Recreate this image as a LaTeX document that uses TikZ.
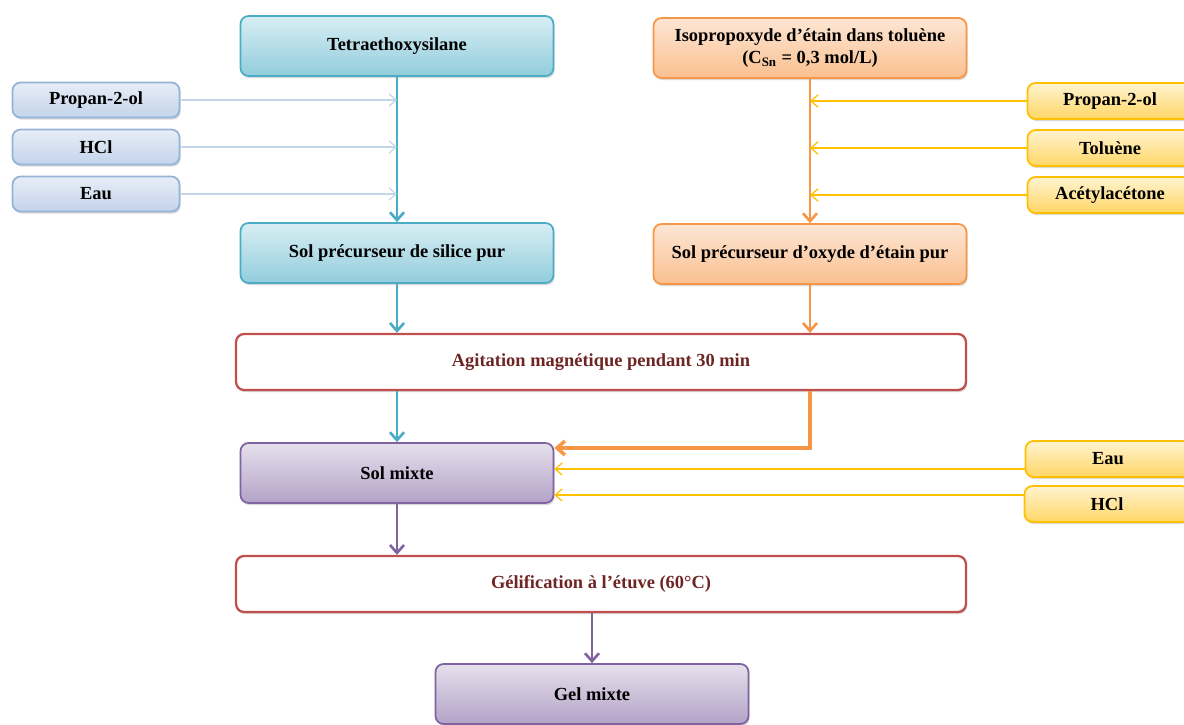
\documentclass[tikz,border=0pt]{standalone}
\usepackage{fontspec}
\setmainfont{Liberation Serif}
\usetikzlibrary{arrows.meta,shadows}

\definecolor{bleuBord}{HTML}{4BACC6}
\definecolor{bleuHaut}{HTML}{D8EEF4}
\definecolor{bleuBas}{HTML}{92CDDC}
\definecolor{ciel}{HTML}{95B3D7}
\definecolor{cielHaut}{HTML}{E6EDF7}
\definecolor{cielBas}{HTML}{C3D4EB}
\definecolor{cielTrait}{HTML}{C4D5EA}
\definecolor{orangeBord}{HTML}{F79646}
\definecolor{orangeHaut}{HTML}{FDE6D4}
\definecolor{orangeBas}{HTML}{FAC090}
\definecolor{jauneBord}{HTML}{FFC000}
\definecolor{jauneHaut}{HTML}{FFF3D0}
\definecolor{jauneBas}{HTML}{FFD766}
\definecolor{rougeBord}{HTML}{C0504D}
\definecolor{rougeTexte}{HTML}{6E2624}
\definecolor{violetBord}{HTML}{8064A2}
\definecolor{violetHaut}{HTML}{E6E0EC}
\definecolor{violetBas}{HTML}{B3A2C7}

\tikzset{
  boite/.style={rounded corners=0.16cm, align=center, inner sep=2pt,
    font=\fontsize{10.5}{13}\selectfont\bfseries,
    drop shadow={opacity=0.3, shadow xshift=0.7pt, shadow yshift=-1.2pt}},
  silicebox/.style={boite, draw=bleuBord, line width=1pt, top color=bleuHaut,
    bottom color=bleuBas, minimum width=6.26cm, minimum height=1.2cm},
  etainbox/.style={boite, draw=orangeBord, line width=1pt, top color=orangeHaut,
    bottom color=orangeBas, minimum width=6.26cm, minimum height=1.2cm},
  mixtebox/.style={boite, draw=violetBord, line width=1pt, top color=violetHaut,
    bottom color=violetBas, minimum width=6.26cm, minimum height=1.2cm},
  ajoutbleu/.style={boite, draw=ciel, line width=1pt, top color=cielHaut,
    bottom color=cielBas, minimum width=3.34cm, minimum height=0.7cm},
  ajoutjaune/.style={boite, draw=jauneBord, line width=1pt, top color=jauneHaut,
    bottom color=jauneBas, minimum width=3.3cm, minimum height=0.72cm},
  etape/.style={boite, draw=rougeBord, line width=1.3pt, fill=white,
    text=rougeTexte, minimum width=14.6cm, minimum height=1.12cm},
  fleche/.style={line width=1.5pt, -{Straight Barb[length=4.5pt, width=8pt]}},
  fin/.style={line width=0.7pt, -{Straight Barb[length=4pt, width=7pt]}},
}

\begin{document}
\begin{tikzpicture}[x=0.02cm, y=-0.02cm]
%%%%% START %%%%%
\useasboundingbox (0,0) rectangle (1184,724);

% colonne silice
\node[silicebox] (teos) at (397,46) {Tetraethoxysilane};
\node[ajoutbleu] (propL) at (96,100) {Propan-2-ol};
\node[ajoutbleu] (hclL) at (96,147) {HCl};
\node[ajoutbleu] (eauL) at (96,194) {Eau};
\node[silicebox] (silice) at (397,253) {Sol précurseur de silice pur};

% colonne etain
\node[etainbox] (isop) at (810,48) {Isopropoxyde d’étain dans toluène\\(C\textsubscript{Sn} = 0,3 mol/L)};
\node[ajoutjaune] (propR) at (1110,101) {Propan-2-ol};
\node[ajoutjaune] (tolR) at (1110,148) {Toluène};
\node[ajoutjaune] (acacR) at (1110,195) {Acétylacétone};
\node[etainbox] (oxyde) at (810,254) {Sol précurseur d’oxyde d’étain pur};

% melange
\node[etape] (agit) at (601,362) {Agitation magnétique pendant 30 min};
\node[mixtebox] (mixte) at (397,473) {Sol mixte};
\node[ajoutjaune] (eauR) at (1108,459) {Eau};
\node[ajoutjaune] (hclR) at (1107,504) {HCl};
\node[etape] (gelif) at (601,584) {Gélification à l’étuve (60°C)};
\node[mixtebox] (gel) at (592,694) {Gel mixte};

% fleches
\draw[fleche, bleuBord] (teos) -- (silice);
\draw[fin, cielTrait] (propL.east) -- (propL -| teos);
\draw[fin, cielTrait] (hclL.east) -- (hclL -| teos);
\draw[fin, cielTrait] (eauL.east) -- (eauL -| teos);

\draw[fleche, orangeBord] (isop) -- (oxyde);
\draw[fin, jauneBord] (propR.west) -- (propR -| isop);
\draw[fin, jauneBord] (tolR.west) -- (tolR -| isop);
\draw[fin, jauneBord] (acacR.west) -- (acacR -| isop);

\draw[fleche, bleuBord] (silice) -- (silice |- agit.north);
\draw[fleche, orangeBord] (oxyde) -- (oxyde |- agit.north);
\draw[fleche, bleuBord] (silice |- agit.south) -- (mixte);
\draw[fleche, orangeBord, line width=2pt] (oxyde |- agit.south) |- ([yshift=0.5cm]mixte.east);
\draw[fin, jauneBord] ([yshift=-0.2cm]eauR.west) -- ([yshift=-0.2cm]eauR.west -| mixte.east);
\draw[fin, jauneBord] ([yshift=0.18cm]hclR.west) -- ([yshift=0.18cm]hclR.west -| mixte.east);

\draw[fleche, violetBord] (mixte) -- (mixte |- gelif.north);
\draw[fleche, violetBord] (gel |- gelif.south) -- (gel);

%%%%% END %%%%%
\end{tikzpicture}
\end{document}
